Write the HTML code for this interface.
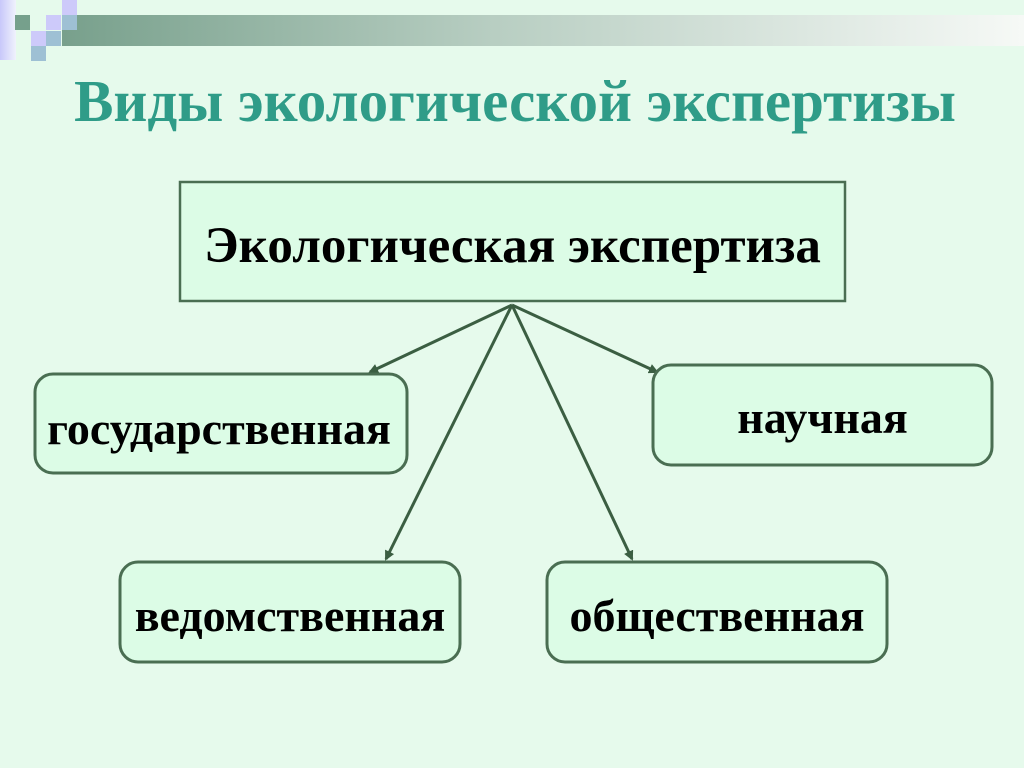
<!DOCTYPE html>
<html><head><meta charset="utf-8"><style>
html,body{margin:0;padding:0;}
body{width:1024px;height:768px;background:#e6faec;position:relative;overflow:hidden;font-family:"Liberation Serif",serif;}
.sq{position:absolute;width:15px;height:15px;}
.t{position:absolute;left:0;width:1024px;text-align:center;white-space:nowrap;}
.b{position:absolute;text-align:center;font-size:46px;font-weight:bold;white-space:nowrap;}
</style></head><body>
<div style="position:absolute;left:0;top:0;width:16px;height:60px;background:linear-gradient(90deg,#c8c8fa,#f0f2fc);"></div>
<div style="position:absolute;left:62px;top:15px;width:962px;height:31px;background:linear-gradient(90deg,#78a08c,#b8cec2 45%,#f6f9f6);"></div>
<div class="sq" style="left:15px;top:15px;background:#76a08c"></div>
<div class="sq" style="left:31px;top:31px;width:15px;background:#cdcafa"></div>
<div class="sq" style="left:46px;top:31px;background:#9ec0d4"></div>
<div class="sq" style="left:31px;top:46px;background:#9ec0d4"></div>
<div class="sq" style="left:62px;top:0px;background:#cdcafa"></div>
<div class="sq" style="left:46px;top:15px;background:#cdcafa"></div>
<div class="sq" style="left:62px;top:15px;background:#9ec0d4"></div>
<div class="t" style="top:67px;left:3px;font-size:59px;font-weight:bold;color:#2f9c88;">Виды экологической экспертизы</div>
<svg width="1024" height="768" style="position:absolute;left:0;top:0">
<defs><marker id="a" markerWidth="10" markerHeight="10" refX="8" refY="5" orient="auto" markerUnits="userSpaceOnUse"><path d="M0,0 L10,5 L0,10 z" fill="#3b5e42"/></marker></defs>
<rect x="180" y="182" width="665" height="119" fill="#dcfce6" stroke="#4a6e52" stroke-width="2.5"/>
<g stroke="#3b5e42" stroke-width="3" fill="none" marker-end="url(#a)">
<line x1="512" y1="305" x2="370" y2="372"/>
<line x1="512" y1="305" x2="657" y2="372"/>
<line x1="512" y1="305" x2="386" y2="559"/>
<line x1="512" y1="305" x2="632" y2="559"/>
</g>
<g fill="#dcfce6" stroke="#4a6e52" stroke-width="3">
<rect x="35" y="374" width="372" height="99" rx="18"/>
<rect x="653" y="365" width="339" height="100" rx="18"/>
<rect x="120" y="562" width="340" height="100" rx="18"/>
<rect x="547" y="562" width="340" height="100" rx="18"/>
</g>
</svg>
<div class="b" style="left:180px;top:217px;width:665px;font-size:51px;">Экологическая экспертиза</div>
<div class="b" style="left:33px;top:402px;width:372px;">государственная</div>
<div class="b" style="left:653px;top:391px;width:339px;">научная</div>
<div class="b" style="left:120px;top:589px;width:340px;">ведомственная</div>
<div class="b" style="left:547px;top:589px;width:340px;">общественная</div>
</body></html>
